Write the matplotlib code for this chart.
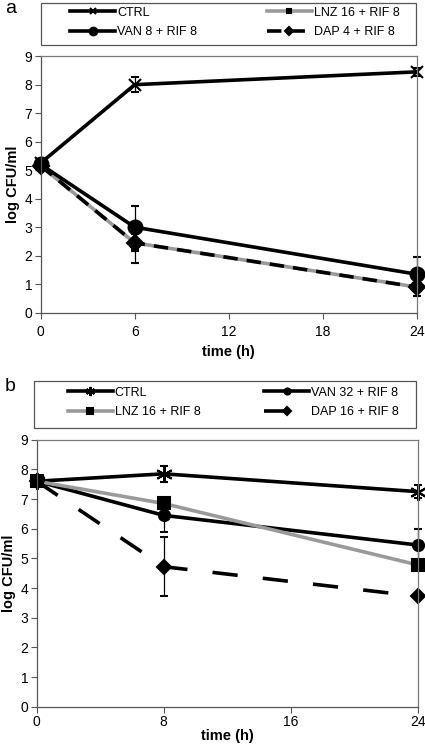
import matplotlib.pyplot as plt
from matplotlib.patches import Rectangle
import numpy as np

# panel a
time_a = [0, 6, 24]
ctrl_a = [5.25, 8.0, 8.45]
ctrl_a_err = [0.1, 0.27, 0.15]
van_a = [5.2, 3.0, 1.35]
van_a_err = [0.1, 0.75, 0.6]
lnz_a = [5.15, 2.45, 0.9]
lnz_a_err = [0.1, 0.3, 0.3]
dap_a = [5.15, 2.45, 0.9]
dap_a_err = [0.1, 0.7, 0.3]

# panel b
time_b = [0, 8, 24]
ctrl_b = [7.6, 7.85, 7.25]
ctrl_b_err = [0.1, 0.27, 0.22]
van_b = [7.6, 6.45, 5.45]
van_b_err = [0.1, 0.55, 0.55]
lnz_b = [7.6, 6.85, 4.78]
lnz_b_err = [0.1, 0.15, 0.15]
dap_b = [7.6, 4.72, 3.72]
dap_b_err = [0.1, 1.0, 0.1]

GRAY = '#9a9a9a'
plt.rcParams['font.family'] = ['Liberation Sans', 'DejaVu Sans']

fig = plt.figure(figsize=(4.25, 7.44), dpi=100)
ax_a = fig.add_axes([0.0958, 0.5797, 0.8847, 0.3448])
ax_b = fig.add_axes([0.0864, 0.0501, 0.8965, 0.3589])


def draw(ax, t, series, dash):
    handles = {}
    for name, y, err, color, ls, marker, ms in series:
        eb = ax.errorbar(t, y, yerr=err, color=color, ls=ls, lw=2.6, marker=marker,
                         ms=ms, mfc='black', mec='black', mew=1.5,
                         ecolor='black', elinewidth=0.9, capsize=3, capthick=0.9,
                         label=name)
        if ls == '--':
            eb[0].set_dashes(dash)
        handles[name] = eb[0]
    return handles


series_a = [
    ('CTRL', ctrl_a, ctrl_a_err, 'black', '-', 'x', 9),
    ('LNZ 16 + RIF 8', lnz_a, lnz_a_err, GRAY, '-', 's', 6),
    ('DAP 4 + RIF 8', dap_a, dap_a_err, 'black', '--', 'D', 8),
    ('VAN 8 + RIF 8', van_a, van_a_err, 'black', '-', 'o', 10),
]
series_b = [
    ('CTRL', ctrl_b, ctrl_b_err, 'black', '-', (6, 2, 0), 12),
    ('VAN 32 + RIF 8', van_b, van_b_err, 'black', '-', 'o', 8),
    ('LNZ 16 + RIF 8', lnz_b, lnz_b_err, GRAY, '-', 's', 9),
    ('DAP 16 + RIF 8', dap_b, dap_b_err, 'black', '--', 'D', 7),
]

h_a = draw(ax_a, time_a, series_a, (4, 2.5))
h_b = draw(ax_b, time_b, series_b, (7, 7))

order_a = ['CTRL', 'VAN 8 + RIF 8', 'LNZ 16 + RIF 8', 'DAP 4 + RIF 8']
order_b = ['CTRL', 'LNZ 16 + RIF 8', 'VAN 32 + RIF 8', 'DAP 16 + RIF 8']

panels = [
    (ax_a, h_a, order_a, [0, 6, 12, 18, 24], 'a', (0.0, 1.0437, 0.997, 0.164),
     (0.078, 1.132), 5.6, 0.989, 5, 4),
    (ax_b, h_b, order_b, [0, 8, 16, 24], 'b', (-0.007, 1.0427, 1.0025, 0.178),
     (0.082, 1.139), 5.1, 0.48, 2, 0),
]
for ax, h, order, ticks, label, box, anchor, colsp, ylab, tpad, lpad in panels:
    ax.set_xlim(0, 24)
    ax.set_ylim(0, 9)
    ax.set_xticks(ticks)
    ax.set_yticks(range(10))
    ax.tick_params(labelsize=10, length=4, width=0.8, color='#555555')
    ax.tick_params(axis='x', pad=tpad)
    ax.tick_params(axis='y', pad=2)
    for s in ax.spines.values():
        s.set_color('#7a7a7a')
        s.set_linewidth(0.9)
    ax.spines['left'].set_color('#555555')
    ax.spines['bottom'].set_color('#555555')
    ax.set_xlabel('time (h)', fontsize=10.5, fontweight='bold', labelpad=lpad)
    ax.set_ylabel('log CFU/ml', fontsize=10.5, fontweight='bold', labelpad=3)
    for c in ax.get_children():
        c.set_clip_on(False)
    ax.add_patch(Rectangle((box[0], box[1]), box[2], box[3], transform=ax.transAxes,
                           fill=False, edgecolor='#555555', lw=0.9, clip_on=False))
    leg = ax.legend([h[k] for k in order], order, loc='center left', bbox_to_anchor=anchor,
                    ncol=2, fontsize=9, handlelength=3.6, handletextpad=0.15,
                    columnspacing=colsp, borderaxespad=0, borderpad=0,
                    frameon=False, markerscale=0.55, labelspacing=0.6)
    fig.text(0.012, ylab, label, fontsize=14, va='center', ha='left')

fig.savefig('out.png', dpi=100)
